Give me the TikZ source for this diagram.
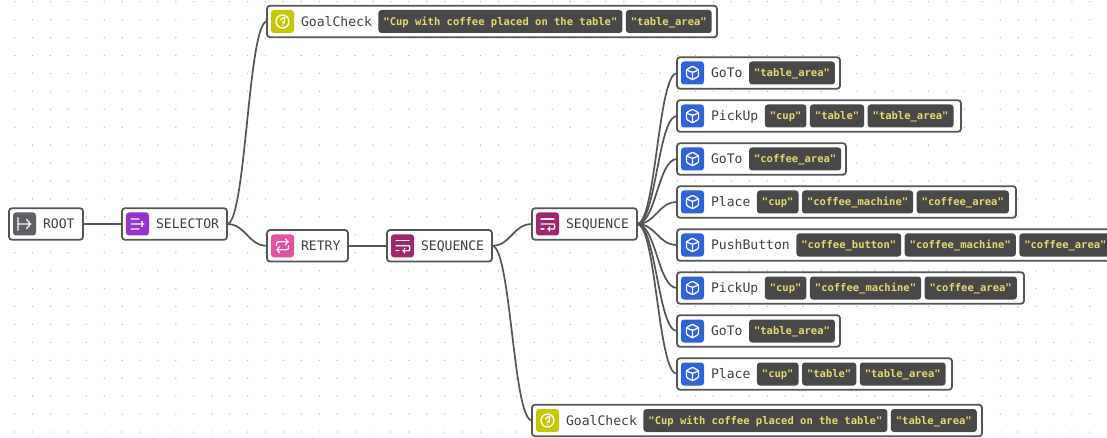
\documentclass[tikz,border=0pt]{standalone}
\usepackage{fontspec}
\usetikzlibrary{positioning}
\newfontfamily\treefont{DejaVu Sans Mono}
\definecolor{linegray}{HTML}{555555}
\definecolor{dotgray}{HTML}{B4B4B4}
\definecolor{labelgray}{HTML}{3F3F3F}
\definecolor{chipgray}{HTML}{484848}
\definecolor{chipyellow}{HTML}{E6D96E}
\definecolor{rootgray}{HTML}{5F5F68}
\definecolor{selpurple}{HTML}{9333D6}
\definecolor{retrypink}{HTML}{E650A0}
\definecolor{seqplum}{HTML}{A3246F}
\definecolor{goalolive}{HTML}{C6C800}
\definecolor{actblue}{HTML}{2F62E0}

\begin{document}
\begin{tikzpicture}[
      x=1pt, y=-1pt,
      box/.style={draw=linegray, fill=white, line width=1.8pt, rounded corners=3pt,
                   minimum height=31.5pt, inner sep=0pt, outer sep=0pt, anchor=west},
      icon/.style={rounded corners=3pt, minimum size=23pt, inner sep=0pt, outer sep=0pt},
      glyph/.style={draw=white, line width=1.3pt, line cap=round, line join=round},
      lbl/.style={font=\treefont\fontsize{13.1}{15}\selectfont, text=labelgray,
                   inner sep=0pt, outer sep=0pt, text height=12pt, text depth=2.5pt},
      chip/.style={fill=chipgray, rounded corners=3pt, minimum height=23pt,
                   inner xsep=5pt, inner ysep=0pt, outer sep=0pt,
                   font=\treefont\bfseries\fontsize{10.5}{12}\selectfont, text=chipyellow,
                   text height=10pt, text depth=2.5pt},
      link/.style={draw=linegray, line width=1.7pt, out=0, in=180, distance=19pt},
      rooticon/.style={icon, fill=rootgray, path picture={\pic at (path picture bounding box.center) {rootglyph};}},
      selicon/.style={icon, fill=selpurple, path picture={\pic at (path picture bounding box.center) {selglyph};}},
      retryicon/.style={icon, fill=retrypink, path picture={\pic at (path picture bounding box.center) {retryglyph};}},
      seqicon/.style={icon, fill=seqplum, path picture={\pic at (path picture bounding box.center) {seqglyph};}},
      goalicon/.style={icon, fill=goalolive, path picture={\pic at (path picture bounding box.center) {goalglyph};}},
      acticon/.style={icon, fill=actblue, path picture={\pic at (path picture bounding box.center) {cubeglyph};}},
      rootglyph/.pic={\draw[glyph] (-6.5,-6.5) -- (-6.5,6.5) (-6.5,0) -- (6.5,0) (2,-4.5) -- (6.5,0) -- (2,4.5);},
      selglyph/.pic={\draw[glyph] (-6.5,-5) -- (1.5,-5) (-6.5,0) -- (6.5,0) (-6.5,5) -- (1.5,5) (4,-2.5) -- (6.5,0) -- (4,2.5);},
      retryglyph/.pic={\draw[glyph, rounded corners=2pt] (-6,0) -- (-6,-4) -- (6,-4);
                       \draw[glyph] (3,-7) -- (6,-4) -- (3,-1);
                       \draw[glyph, rounded corners=2pt] (6,0) -- (6,4) -- (-6,4);
                       \draw[glyph] (-3,1) -- (-6,4) -- (-3,7);},
      seqglyph/.pic={\draw[glyph] (-6.5,-5) -- (6.5,-5) (-6.5,5) -- (-3.5,5);
                     \draw[glyph] (-6.5,0) -- (3.5,0) .. controls (7.5,0) and (7.5,5) .. (3.5,5) -- (0,5) (2,3) -- (0,5) -- (2,7);},
      goalglyph/.pic={\draw[glyph] (0,0) circle (6.5);
                      \draw[glyph] (-1.9,-1.5) .. controls (-1.7,-3.7) and (2.2,-3.7) .. (2,-1.2) .. controls (1.8,0) and (0,0) .. (0,1.5);
                      \fill[white] (0,3.6) circle (0.8);},
      cubeglyph/.pic={\draw[glyph, rounded corners=1pt] (0,-6.8) -- (6,-3.4) -- (6,3.4) -- (0,6.8) -- (-6,3.4) -- (-6,-3.4) -- cycle;
                      \draw[glyph] (-6,-3.4) -- (0,0) -- (6,-3.4) (0,0) -- (0,6.8);}
    ]
      \path[use as bounding box, clip] (0,0) rectangle (1107,438);
      \fill[white] (0,0) rectangle (1107,438);
      \foreach \i in {0,...,61}
        \foreach \j in {0,...,24}
          \fill[dotgray] (14.6+17.92*\i, 1.7+17.93*\j) circle (0.7);

      \node[box, minimum width=74pt] (root) at (9,224) {};
      \node[rooticon, right=4pt of root.west] (rooti) {};
      \node[lbl, right=7pt of rooti] (rootl) {ROOT};

      \node[box, minimum width=105pt] (sel) at (122,224) {};
      \node[selicon, right=4pt of sel.west] (seli) {};
      \node[lbl, right=7pt of seli] (sell) {SELECTOR};

      \node[box, minimum width=450pt] (goal) at (267,21.5) {};
      \node[goalicon, right=4pt of goal.west] (goali) {};
      \node[lbl, right=7pt of goali] (goall) {GoalCheck};
      \node[chip, right=6.5pt of goall] (goala) {"Cup with coffee placed on the table"};
      \node[chip, right=3.5pt of goala] (goalb) {"table\_area"};

      \node[box, minimum width=81pt] (retry) at (267,245.8) {};
      \node[retryicon, right=4pt of retry.west] (retryi) {};
      \node[lbl, right=7pt of retryi] (retryl) {RETRY};

      \node[box, minimum width=105pt] (seqa) at (387,245.8) {};
      \node[seqicon, right=4pt of seqa.west] (seqai) {};
      \node[lbl, right=7pt of seqai] (seqal) {SEQUENCE};

      \node[box, minimum width=105pt] (seqb) at (532,224) {};
      \node[seqicon, right=4pt of seqb.west] (seqbi) {};
      \node[lbl, right=7pt of seqbi] (seqbl) {SEQUENCE};

      \node[box, minimum width=163pt] (act1) at (677,73) {};
      \node[acticon, right=4pt of act1.west] (act1i) {};
      \node[lbl, right=7pt of act1i] (act1l) {GoTo};
      \node[chip, right=6.5pt of act1l] (act1a) {"table\_area"};

      \node[box, minimum width=284pt] (act2) at (677,116) {};
      \node[acticon, right=4pt of act2.west] (act2i) {};
      \node[lbl, right=7pt of act2i] (act2l) {PickUp};
      \node[chip, right=6.5pt of act2l] (act2a) {"cup"};
      \node[chip, right=3.5pt of act2a] (act2b) {"table"};
      \node[chip, right=3.5pt of act2b] (act2c) {"table\_area"};

      \node[box, minimum width=169pt] (act3) at (677,159) {};
      \node[acticon, right=4pt of act3.west] (act3i) {};
      \node[lbl, right=7pt of act3i] (act3l) {GoTo};
      \node[chip, right=6.5pt of act3l] (act3a) {"coffee\_area"};

      \node[box, minimum width=339pt] (act4) at (677,202) {};
      \node[acticon, right=4pt of act4.west] (act4i) {};
      \node[lbl, right=7pt of act4i] (act4l) {Place};
      \node[chip, right=6.5pt of act4l] (act4a) {"cup"};
      \node[chip, right=3.5pt of act4a] (act4b) {"coffee\_machine"};
      \node[chip, right=3.5pt of act4b] (act4c) {"coffee\_area"};

      \node[box, minimum width=440pt] (act5) at (677,245) {};
      \node[acticon, right=4pt of act5.west] (act5i) {};
      \node[lbl, right=7pt of act5i] (act5l) {PushButton};
      \node[chip, right=6.5pt of act5l] (act5a) {"coffee\_button"};
      \node[chip, right=3.5pt of act5a] (act5b) {"coffee\_machine"};
      \node[chip, right=3.5pt of act5b] (act5c) {"coffee\_area"};

      \node[box, minimum width=347pt] (act6) at (677,288) {};
      \node[acticon, right=4pt of act6.west] (act6i) {};
      \node[lbl, right=7pt of act6i] (act6l) {PickUp};
      \node[chip, right=6.5pt of act6l] (act6a) {"cup"};
      \node[chip, right=3.5pt of act6a] (act6b) {"coffee\_machine"};
      \node[chip, right=3.5pt of act6b] (act6c) {"coffee\_area"};

      \node[box, minimum width=163pt] (act7) at (677,331) {};
      \node[acticon, right=4pt of act7.west] (act7i) {};
      \node[lbl, right=7pt of act7i] (act7l) {GoTo};
      \node[chip, right=6.5pt of act7l] (act7a) {"table\_area"};

      \node[box, minimum width=275pt] (act8) at (677,374) {};
      \node[acticon, right=4pt of act8.west] (act8i) {};
      \node[lbl, right=7pt of act8i] (act8l) {Place};
      \node[chip, right=6.5pt of act8l] (act8a) {"cup"};
      \node[chip, right=3.5pt of act8a] (act8b) {"table"};
      \node[chip, right=3.5pt of act8b] (act8c) {"table\_area"};

      \node[box, minimum width=450pt] (goalz) at (532,420.5) {};
      \node[goalicon, right=4pt of goalz.west] (goalzi) {};
      \node[lbl, right=7pt of goalzi] (goalzl) {GoalCheck};
      \node[chip, right=6.5pt of goalzl] (goalza) {"Cup with coffee placed on the table"};
      \node[chip, right=3.5pt of goalza] (goalzb) {"table\_area"};

      \draw[link] (root.east) to (sel.west);
      \draw[link] (sel.east) to (goal.west);
      \draw[link] (sel.east) to (retry.west);
      \draw[link] (retry.east) to (seqa.west);
      \draw[link] (seqa.east) to (seqb.west);
      \draw[link] (seqa.east) to (goalz.west);
      \foreach \n in {act1,act2,act3,act4,act5,act6,act7,act8}
        \draw[link] (seqb.east) to (\n.west);
    \end{tikzpicture}
\end{document}
